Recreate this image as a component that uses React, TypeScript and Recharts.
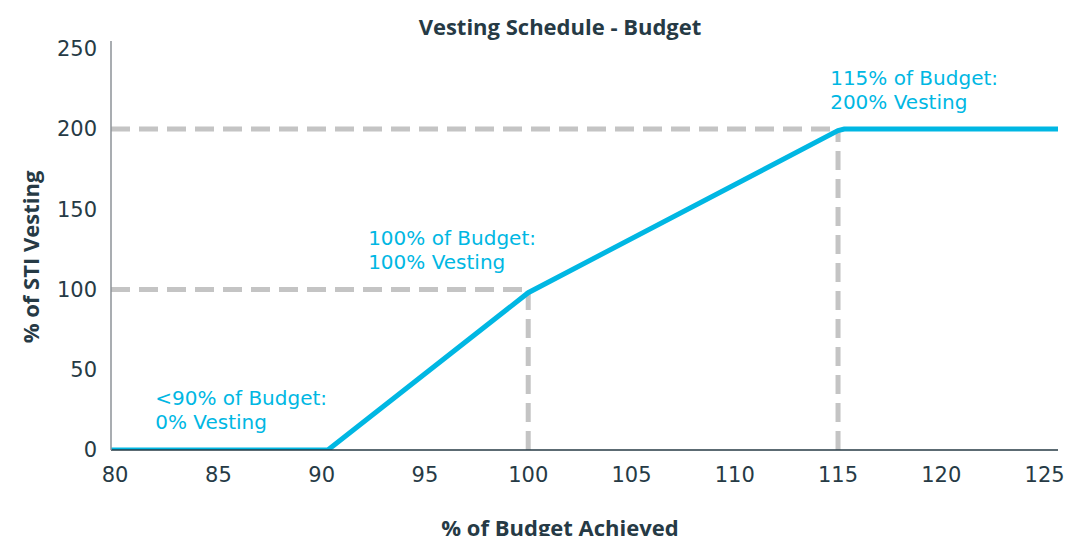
import { LineChart, Line, XAxis, YAxis, ReferenceLine, ReferenceDot } from "recharts"

const budgetPct = [79.8, 90.3, 100, 115, 115.3, 125.65]
const vestingPct = [0, 0, 98, 199, 200, 200]
const xTicks = [80, 85, 90, 95, 100, 105, 110, 115, 120, 125]
const yTicks = [0, 50, 100, 150, 200, 250]

// dashed guides: [x, y] corner of each step
const guides = [
  [100, 100],
  [115, 200],
]

const notes = [
  { x: 81.94, y: 32.4, lines: ["<90% of Budget:", "0% Vesting"] },
  { x: 92.25, y: 132.1, lines: ["100% of Budget:", "100% Vesting"] },
  { x: 114.62, y: 231.8, lines: ["115% of Budget:", "200% Vesting"] },
]

const data = budgetPct.map((b, i) => ({ budget: b, vesting: vestingPct[i] }))

const BLUE = "#00b7e3"
const DARK = "#263a45"
const GUIDE = "#c4c4c4"
const FONT = "'Open Sans', sans-serif"
const NUM_FONT = "'DejaVu Sans', sans-serif"

function NoteLabel(props: any) {
  const { viewBox, lines } = props
  const x = viewBox.x
  const y = viewBox.y
  return (
    <text x={x} y={y} fill={BLUE} fontFamily={NUM_FONT} fontSize={20}>
      <tspan x={x} dy="0.35em">{lines[0]}</tspan>
      <tspan x={x} dy="24">{lines[1]}</tspan>
    </text>
  )
}

export default function App() {
  return (
    <div style={{ position: "absolute", left: 0, top: 0, width: 1066, height: 536, overflow: "hidden", background: "#fff" }}>
      <div
        style={{
          position: "absolute",
          left: 0,
          width: 1066,
          top: 11,
          textAlign: "center",
          fontFamily: FONT,
          fontWeight: 700,
          fontSize: 22,
          color: DARK,
          paddingLeft: 54,
          boxSizing: "border-box",
        }}
      >
        Vesting Schedule - Budget
      </div>
      <LineChart width={1066} height={536} data={data} margin={{ top: 41, right: 8, bottom: 56, left: 51 }}>
        <XAxis
          dataKey="budget"
          type="number"
          domain={[79.8, 125.65]}
          ticks={xTicks}
          allowDataOverflow
          height={30}
          tickSize={0}
          tickMargin={17}
          axisLine={{ stroke: DARK, strokeWidth: 1.5 }}
          tick={{ fill: DARK, fontSize: 21, fontFamily: NUM_FONT }}
        />
        <YAxis
          type="number"
          domain={[0, 254.8]}
          ticks={yTicks}
          allowDataOverflow
          width={60}
          tickSize={0}
          tickMargin={14}
          axisLine={{ stroke: "#8c9297", strokeWidth: 1.5 }}
          tick={{ fill: DARK, fontSize: 21, fontFamily: NUM_FONT }}
          label={{
            content: () => (
              <text
                x={30}
                y={257}
                transform="rotate(-90 30 257)"
                textAnchor="middle"
                dominantBaseline="central"
                fill={DARK}
                fontFamily={FONT}
                fontWeight={700}
                fontSize={22}
              >
                % of STI Vesting
              </text>
            ),
          }}
        />
        {guides.map(([gx, gy]) => (
          <ReferenceLine
            key={"h" + gx}
            segment={[{ x: 79.8, y: gy }, { x: gx, y: gy }]}
            stroke={GUIDE}
            strokeWidth={5}
            strokeDasharray="19 9"
          />
        ))}
        {guides.map(([gx, gy]) => (
          <ReferenceLine
            key={"v" + gx}
            segment={[{ x: gx, y: 0 }, { x: gx, y: gy }]}
            stroke={GUIDE}
            strokeWidth={5}
            strokeDasharray="19 9"
          />
        ))}
        <Line
          type="linear"
          dataKey="vesting"
          stroke={BLUE}
          strokeWidth={5}
          dot={false}
          activeDot={false}
          isAnimationActive={false}
        />
        {notes.map((n) => (
          <ReferenceDot
            key={n.lines[0]}
            x={n.x}
            y={n.y}
            r={0}
            fill="none"
            stroke="none"
            label={<NoteLabel lines={n.lines} />}
          />
        ))}
      </LineChart>
      <div
        style={{
          position: "absolute",
          left: 0,
          width: 1066,
          top: 512,
          textAlign: "center",
          fontFamily: FONT,
          fontWeight: 700,
          fontSize: 22,
          color: DARK,
          paddingLeft: 54,
          boxSizing: "border-box",
        }}
      >
        % of Budget Achieved
      </div>
    </div>
  )
}
